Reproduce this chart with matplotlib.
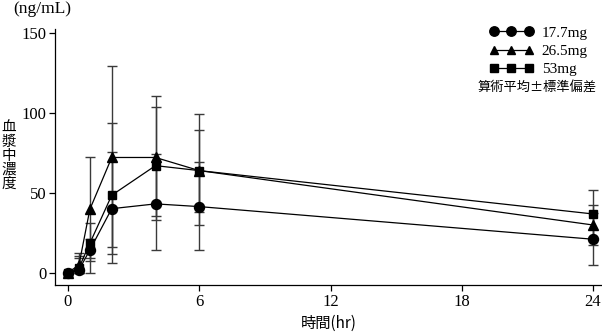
import numpy as np
import matplotlib.pyplot as plt
from matplotlib.lines import Line2D

# sampling times (hr)
hours = [0, 0.5, 1, 2, 4, 6, 24]

# mean plasma concentration (ng/mL) per dose
mean_177 = [0, 1.7, 14.2, 40.0, 43.0, 41.3, 20.9]
mean_265 = [0, 4.8, 39.6, 72.0, 72.0, 63.8, 29.8]
mean_53 = [0, 3.0, 18.4, 48.4, 66.9, 63.8, 36.7]

# error bar ends (mean - SD, mean + SD)
low_177 = [0, 0, 7.0, 5.9, 14.2, 14.2, 4.8]
high_177 = [0, 9.0, 21.0, 75.3, 74.2, 69.4, 37.0]
low_265 = [0, 0, 0, 15.9, 35.4, 29.6, 17.3]
high_265 = [0, 12.5, 72.0, 129.4, 110.4, 99.2, 42.3]
low_53 = [0, 0, 9.0, 11.6, 32.9, 38.0, 21.7]
high_53 = [0, 10.4, 31.3, 93.6, 103.8, 89.2, 51.7]

labels = ['17.7mg', '26.5mg', '53mg']
markers = ['o', '^', 's']
msizes = [7.2, 6.8, 6.0]

serif = 'Liberation Serif'
jp = ['Noto Sans CJK JP', 'DejaVu Sans']

fig = plt.figure(figsize=(6.02, 3.32), dpi=100)
ax = fig.add_axes([55/602, 47/332, 547/602, 256/332])

series = [(mean_177, low_177, high_177),
          (mean_265, low_265, high_265),
          (mean_53, low_53, high_53)]

for (m, lo, hi), mk, ms in zip(series, markers, msizes):
  m = np.array(m)
  yerr = [m - np.array(lo), np.array(hi) - m]
  ax.errorbar(hours, m, yerr=yerr, fmt='none', ecolor='#3a3a3a',
              elinewidth=1.0, capsize=3.3, capthick=1.0, zorder=2)
  ax.plot(hours, m, marker=mk, color='k', lw=0.9, ms=ms, zorder=3)

ax.set_xlim(-0.594, 24.41)
ax.set_ylim(-7.7, 152.3)
ax.set_xticks([0, 6, 12, 18, 24])
ax.set_yticks([0, 50, 100, 150])
ax.spines['top'].set_visible(False)
ax.spines['right'].set_visible(False)
for s in ['left', 'bottom']:
  ax.spines[s].set_linewidth(0.9)
ax.tick_params(direction='out', length=4.2, width=0.9, labelsize=12, pad=2)
for lab in ax.get_xticklabels() + ax.get_yticklabels():
  lab.set_fontfamily(serif)

#Axis labels
fig.text(13/602, 1 - 9/332, '(ng/mL)', family=serif, fontsize=12.5, va='center', ha='left')
fig.text(9/602, 1 - 156/332, '\n'.join('血漿中濃度'), family=jp, fontsize=10.5,
         va='center', ha='center', linespacing=1.0)
fig.text(329/602, 1 - 323/332, '時間(hr)', family=jp, fontsize=11, va='center', ha='center')

#Legend
handles = [Line2D([], [], marker=mk, color='k', lw=0.9, ms=ms - 0.4)
           for mk, ms in zip(markers, msizes)]
fig.legend(handles, labels, loc='upper left', bbox_to_anchor=(489/602, 1 - 26/332),
           numpoints=3, frameon=False, handlelength=2.9, handletextpad=0.55,
           borderpad=0, borderaxespad=0, labelspacing=0.3,
           prop={'family': serif, 'size': 11})
fig.text(537/602, 1 - 88/332, '算術平均±標準偏差', family=jp, fontsize=9.5,
         va='center', ha='center')

fig.savefig('out.png', dpi=100)
